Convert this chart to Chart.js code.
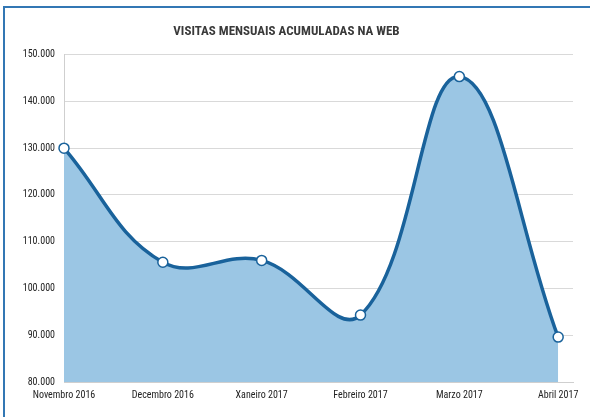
<!DOCTYPE html>
<html>
<head>
    <title>Visitas mensuais</title>
    <script src="https://cdn.jsdelivr.net/npm/chart.js"></script>
    <style>
        body { margin: 0; background: #fff; }
        #wrap { position: relative; width: 590px; height: 417px; }
        #frame {
            position: absolute; left: 3px; top: 6px; width: 600px; height: 420px;
            border-left: 2px solid #3277b4; border-top: 2px solid #3277b4;
            pointer-events: none;
        }
    </style>
</head>
<body>
<div id="wrap">
    <canvas id="visitsChart" width="590" height="417"></canvas>
    <div id="frame"></div>
</div>
<script>
    // months shown on the x axis
    const months = ['Novembro 2016', 'Decembro 2016', 'Xaneiro 2017', 'Febreiro 2017', 'Marzo 2017', 'Abril 2017'];
    // accumulated visits per month
    const visits = [130000, 105600, 106000, 94300, 145300, 89600];
    // y axis range and step
    const yMin = 80000;
    const yMax = 150000;
    const yStep = 10000;

    const fmt = v => String(v).replace(/\B(?=(\d{3})+(?!\d))/g, '.');
    const labelFont = { family: "'Roboto Condensed', 'Liberation Sans'", size: 10 };

    const ctx = document.getElementById('visitsChart').getContext('2d');
    new Chart(ctx, {
        type: 'line',
        data: {
            datasets: [{
                label: 'Visitas',
                data: visits.map((v, i) => ({ x: i, y: v })),
                borderColor: '#19629b',
                borderWidth: 3.5,
                backgroundColor: '#9bc6e4',
                fill: 'start',
                tension: 0.4,
                pointRadius: 5,
                pointBackgroundColor: '#fff',
                pointBorderColor: '#19629b',
                pointBorderWidth: 1.5,
                clip: false
            }]
        },
        options: {
            responsive: false,
            animation: false,
            layout: { padding: { left: 0, right: 17, top: 0, bottom: 9 } },
            plugins: {
                legend: { display: false },
                tooltip: { enabled: false },
                title: {
                    display: true,
                    text: 'VISITAS MENSUAIS ACUMULADAS NA WEB',
                    color: '#3a3a3a',
                    font: { family: "'Roboto Condensed', 'Liberation Sans'", size: 13, weight: 'bold' },
                    padding: { top: 24, bottom: 15 }
                }
            },
            scales: {
                x: {
                    type: 'linear',
                    min: 0,
                    max: 5.15,
                    afterBuildTicks: s => { s.ticks = months.map((_, i) => ({ value: i })); },
                    grid: { display: false, drawTicks: false },
                    border: { display: true, color: '#cfcfcf' },
                    ticks: {
                        autoSkip: false,
                        maxRotation: 0,
                        padding: 7,
                        color: '#222',
                        font: labelFont,
                        callback: v => months[v]
                    }
                },
                y: {
                    min: yMin,
                    max: yMax,
                    afterFit: s => { s.width = 64; },
                    grid: { color: '#d9d9d9', drawTicks: false },
                    border: { display: true, color: '#cfcfcf' },
                    ticks: {
                        stepSize: yStep,
                        padding: 9,
                        color: '#222',
                        font: labelFont,
                        callback: v => fmt(v)
                    }
                }
            }
        }
    });
</script>
</body>
</html>
